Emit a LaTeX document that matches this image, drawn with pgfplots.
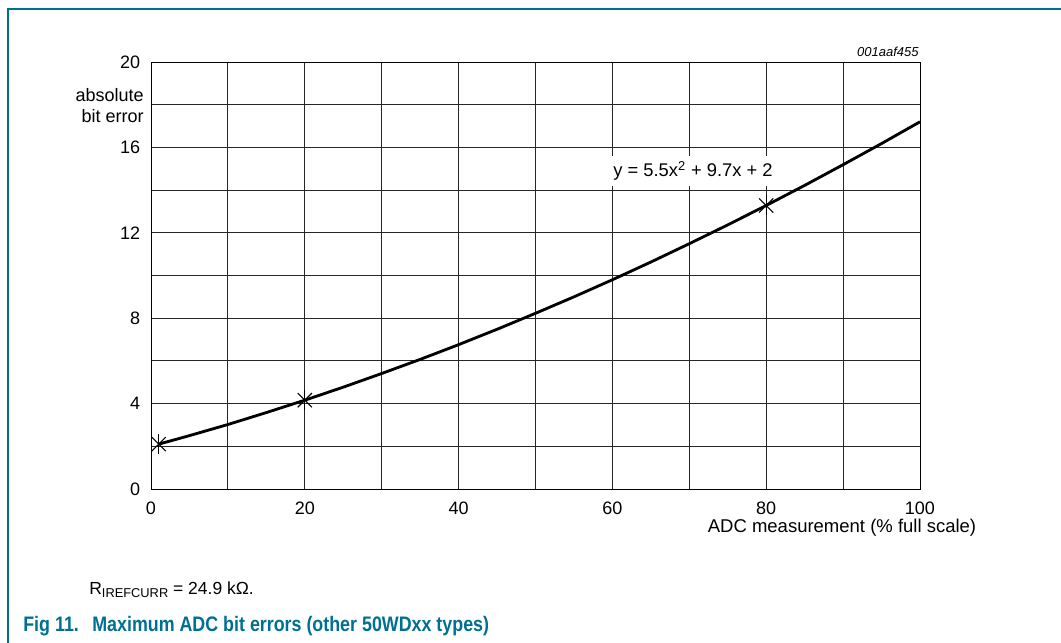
\documentclass[border=0pt]{standalone}
\usepackage{fontspec}
\setmainfont{Liberation Sans}
\usepackage{pgfplots}
\pgfplotsset{compat=1.18}
\definecolor{nxpteal}{RGB}{0,112,145}

\begin{document}
\begin{tikzpicture}[x=0.6pt,y=-0.6pt]
\path[use as bounding box] (0,0) rectangle (1061,643);
\draw[nxpteal, line width=1pt] (8,643) -- (8,9) -- (1061,9);
\coordinate (O) at (151,489);

\begin{axis}[
    at={(O)}, anchor=south west,
    scale only axis, width=461.4pt, height=256.2pt,
    xmin=0, xmax=100, ymin=0, ymax=20,
    xtick={0,10,...,100}, xticklabels={0,,20,,40,,60,,80,,100},
    ytick={0,2,...,20}, yticklabels={0,,4,,8,,12,,16,,20},
    grid=major,
    major grid style={black!85, line width=0.6pt},
    axis line style={line width=0.6pt},
    major tick length=0pt,
    tick label style={font=\fontsize{10.8}{12}\selectfont},
    xticklabel style={yshift=-4.3pt},
    yticklabel style={xshift=-3pt},
]
\addplot[black, line width=1.7pt] coordinates {
    (1,2.10)(5,2.50)(10,3.02)(15,3.58)(20,4.16)(25,4.77)(30,5.41)(35,6.07)
    (40,6.76)(45,7.48)(50,8.23)(55,9.00)(60,9.80)(65,10.63)(70,11.49)
    (75,12.37)(80,13.28)(85,14.22)(90,15.19)(95,16.18)(100,17.20)
};
% star markers: an x with a vertical bar through it
\addplot[only marks, mark=x, mark size=6pt, mark options={line width=0.65pt}]
    coordinates {(1,2.10)(20,4.16)(80,13.28)};
\addplot[only marks, mark=|, mark size=6pt, mark options={line width=0.65pt}]
    coordinates {(1,2.10)(20,4.16)(80,13.28)};
\end{axis}

% texts, placed in pixel coordinates of the reference
\node[anchor=east, align=right, font=\fontsize{10.8}{12.6}\selectfont, inner sep=0pt]
    at (144,106) {absolute\\bit error};
\node[anchor=east, font=\fontsize{7.8}{9}\selectfont\itshape, inner sep=0pt]
    at (919,52) {001aaf455};
\node[fill=white, inner xsep=4pt, inner ysep=3pt, font=\fontsize{11}{12}\selectfont]
    at (693,171) {y = 5.5x\textsuperscript{2} + 9.7x + 2};
\node[font=\fontsize{11.1}{12}\selectfont, inner sep=0pt]
    at (842,528) {ADC measurement (\% full scale)};

\node[anchor=west, font=\fontsize{10.5}{12}\selectfont, inner sep=0pt]
    at (89,590) {R\raisebox{-0.35ex}{\fontsize{7.7}{8}\selectfont IREFCURR} = 24.9 kΩ.};
\node[anchor=west, text=nxpteal, font=\fontsize{12.6}{14}\selectfont\bfseries, inner sep=0pt]
    at (23,626) {\scalebox{0.85}[1]{Fig 11.}};
\node[anchor=west, text=nxpteal, font=\fontsize{12.6}{14}\selectfont\bfseries, inner sep=0pt]
    at (92,626) {\scalebox{0.85}[1]{Maximum ADC bit errors (other 50WDxx types)}};
\end{tikzpicture}
\end{document}
